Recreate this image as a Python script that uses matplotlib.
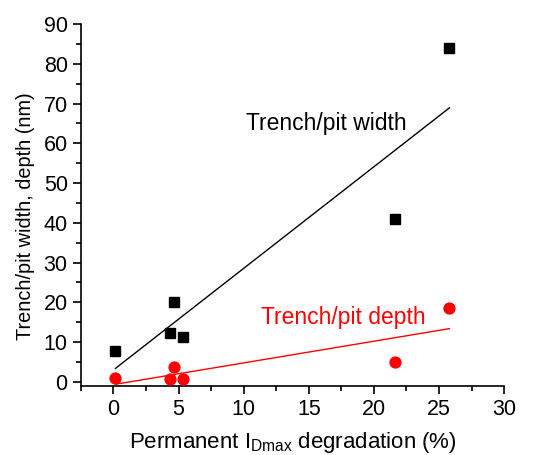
import numpy as np
import matplotlib
matplotlib.use("Agg")
import matplotlib.pyplot as plt
from matplotlib.ticker import MultipleLocator

plt.rcParams['font.family'] = ['Liberation Sans', 'DejaVu Sans']

# Permanent I_Dmax degradation (%)
degradation = [0.15, 4.35, 4.66, 5.35, 21.6, 25.8]
# Trench/pit width (nm)
width_nm = [7.8, 12.2, 20.0, 11.4, 40.9, 83.9]
# Trench/pit depth (nm)
depth_nm = [0.85, 0.7, 3.7, 0.8, 4.9, 18.7]

fig = plt.figure(figsize=(5.54, 4.55), dpi=100)
ax = fig.add_axes([0.146, 0.152, 0.764, 0.795])

x = np.array(degradation)
xfit = np.array([x.min(), x.max()])

ax.plot(x, width_nm, 's', color='black', ms=6.6, mec='black', zorder=3)
ax.plot(x, depth_nm, 'o', color='red', ms=7.8, mec='red', zorder=3)

# linear fits through each series
pw = np.polyfit(x, width_nm, 1)
pd = np.polyfit(x, depth_nm, 1)
ax.plot(xfit, np.polyval(pw, xfit), '-', color='black', lw=1.0)
ax.plot(xfit, np.polyval(pd, xfit), '-', color='red', lw=1.0)

ax.text(10.2, 65, 'Trench/pit width', color='black', fontsize=16.5, va='center', ha='left')
ax.text(11.3, 16.3, 'Trench/pit depth', color='red', fontsize=16.5, va='center', ha='left')

ax.set_xlim(-2.5, 30)
ax.set_ylim(-1, 90)
ax.xaxis.set_major_locator(MultipleLocator(5))
ax.xaxis.set_minor_locator(MultipleLocator(2.5))
ax.yaxis.set_major_locator(MultipleLocator(10))
ax.yaxis.set_minor_locator(MultipleLocator(5))

for s in ('top', 'right'):
    ax.spines[s].set_visible(False)
for s in ('left', 'bottom'):
    ax.spines[s].set_linewidth(1.2)

ax.tick_params(which='major', direction='out', length=6, width=1.2, labelsize=15.5)
ax.tick_params(which='minor', direction='out', length=3.5, width=1.2)

ax.set_xlabel(r'Permanent I$_{\mathregular{Dmax}}$ degradation (%)', fontsize=16, labelpad=7)
ax.set_ylabel('Trench/pit width, depth (nm)', fontsize=14.3)
ax.yaxis.set_label_coords(-0.108, 0.47)

fig.savefig('out.png', dpi=100)
